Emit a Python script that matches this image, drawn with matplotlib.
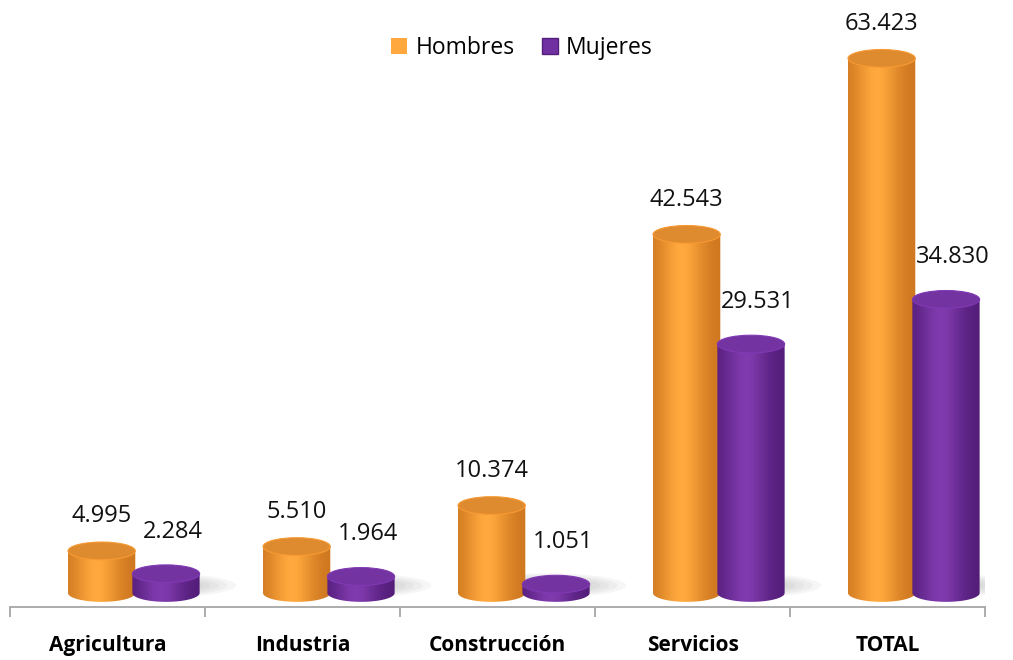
import numpy as np
import matplotlib
matplotlib.use("Agg")
import matplotlib.pyplot as plt
from matplotlib.patches import Ellipse, PathPatch, Patch
from matplotlib.path import Path

# ==============================================
# data
categorias = ["Agricultura", "Industria", "Construcción", "Servicios", "TOTAL"]
hombres = [4995, 5510, 10374, 42543, 63423]
mujeres = [2284, 1964, 1051, 29531, 34830]
series = ["Hombres", "Mujeres"]

# ==============================================
# colours: (dark edge, bright centre, top face)
estilos = {
    "Hombres": ((0.80, 0.46, 0.12), (1.00, 0.66, 0.24), (0.87, 0.54, 0.18)),
    "Mujeres": ((0.32, 0.11, 0.47), (0.50, 0.23, 0.68), (0.45, 0.20, 0.63)),
}

plt.rcParams['font.family'] = ['Open Sans', 'DejaVu Sans']

fig = plt.figure(figsize=(10.13, 6.6), dpi=100)
ax = fig.add_axes([10 / 1013, 53 / 660, 975 / 1013, 607 / 660])

ancho = 0.345
offsets = [-0.03, 0.30]
label_off = [4.1, 5.0]
eh = 2.1  # ellipse height in data units (thousands)


def cilindro(ax, cx, h, w, estilo, z):
    dark, bright, top = estilo
    x0, x1 = cx - w / 2, cx + w / 2
    # outline of body: left side down, bottom half-ellipse, right side up
    t = np.linspace(np.pi, 2 * np.pi, 60)
    arc = np.column_stack([cx + w / 2 * np.cos(t), eh / 2 * np.sin(t)])
    verts = np.vstack([[x0, h], arc, [x1, h], [x0, h]])
    codes = [Path.MOVETO] + [Path.LINETO] * (len(verts) - 2) + [Path.CLOSEPOLY]
    clip = PathPatch(Path(verts, codes), facecolor="none", edgecolor="none")
    ax.add_patch(clip)

    u = np.linspace(-1, 1, 200)
    f = np.exp(-((u + 0.15) / 0.65) ** 2)
    grad = np.array(dark)[None, :] + (np.array(bright) - np.array(dark))[None, :] * f[:, None]
    img = ax.imshow(grad[None, :, :], extent=[x0, x1, -eh / 2, h], aspect="auto",
                    interpolation="bilinear", zorder=z)
    img.set_clip_path(clip)

    tope = Ellipse((cx, h), w, eh, facecolor=top,
                   edgecolor=tuple(min(1, c * 1.12) for c in top), lw=0.8, zorder=z + 0.1)
    ax.add_patch(tope)


x = np.arange(len(categorias))

# soft floor shadows, behind and to the right of each pair
for i in x:
    for k in range(7):
        s = 1 - k / 7
        ax.add_patch(Ellipse((i + 0.24, 0.9), 0.62 * s + 0.22, 2.4 * s + 0.5,
                             facecolor="0.5", edgecolor="none", alpha=0.07, zorder=1))

for j, (nombre, vals) in enumerate(zip(series, [hombres, mujeres])):
    for i, v in enumerate(vals):
        h = v / 1000
        cx = x[i] + offsets[j]
        cilindro(ax, cx, h, ancho, estilos[nombre], 3 + j * 2)
        etiqueta = f"{v:,}".replace(",", ".")
        ax.text(cx + 0.035 * j, h + label_off[j], etiqueta, ha="center", va="center",
                fontsize=17, color="#111111", zorder=10)

ax.set_xlim(-0.5, len(categorias) - 0.5)
ax.set_ylim(-14 / 8.43, 593 / 8.43)

for s in ["top", "left", "right"]:
    ax.spines[s].set_visible(False)
ax.spines["bottom"].set_color("#a6a6a6")
ax.spines["bottom"].set_linewidth(1.3)
ax.set_yticks([])

ax.set_xticks(np.arange(len(categorias) + 1) - 0.5)
ax.set_xticklabels([])
ax.tick_params(axis="x", which="major", length=7, width=1.3, color="#a6a6a6")
ax.set_xticks(x, minor=True)
ax.set_xticklabels(categorias, minor=True, fontsize=15, fontweight="bold")
ax.tick_params(axis="x", which="minor", length=0, pad=20)

handles = [Patch(facecolor=estilos[s][1], edgecolor="none") for s in series]
handles[1] = Patch(facecolor=(0.44, 0.19, 0.63), edgecolor=(0.33, 0.12, 0.48))
fig.legend(handles, series, loc="center", bbox_to_anchor=(522 / 1013, 1 - 48 / 660),
           ncol=2, frameon=False, fontsize=16.5, handlelength=0.7, handleheight=0.7,
           handletextpad=0.35, columnspacing=1.2)

fig.savefig("out.png", dpi=100)
